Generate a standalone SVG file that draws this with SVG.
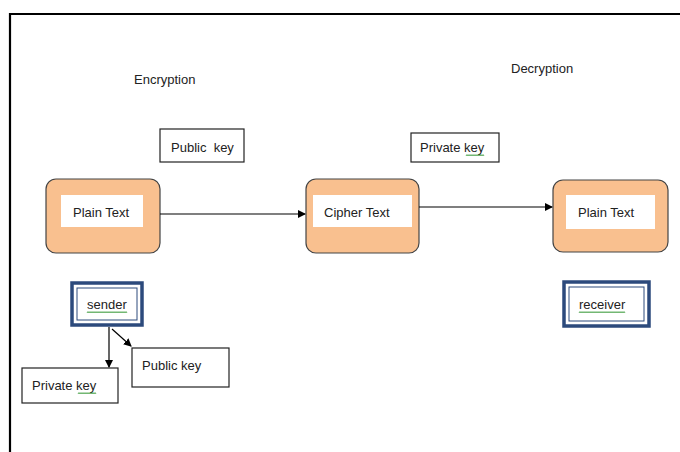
<svg xmlns="http://www.w3.org/2000/svg" width="680" height="452" viewBox="0 0 680 452">
<defs>
<marker id="ah" markerWidth="8" markerHeight="8" refX="7" refY="4" orient="auto" markerUnits="userSpaceOnUse">
<path d="M0,0 L8,4 L0,8 z" fill="#000"/>
</marker>
</defs>
<style>
text{font-family:"Liberation Sans",Arial,sans-serif;font-size:13px;fill:#222}
.node{fill:#f9c08f;stroke:#444;stroke-width:1.2}
.inner{fill:#fff}
.box{fill:#fff;stroke:#222;stroke-width:1.2}
.outer{fill:#fff;stroke:#2c4a7c;stroke-width:3.5}
.innerline{fill:none;stroke:#2c4a7c;stroke-width:1}
.conn{stroke:#000;stroke-width:1.2;fill:none;marker-end:url(#ah)}
.squig{fill:none;stroke:#3a9a3a;stroke-width:0.8}
</style>
<rect width="680" height="452" fill="#fff"/>
<path d="M10,452 L10,14 L680,14" fill="none" stroke="#000" stroke-width="2.2"/>
<text x="134" y="84">Encryption</text>
<text x="511" y="73">Decryption</text>
<g id="pubkey-top"><rect class="box" x="160" y="129" width="84" height="33"/><text x="171" y="152" xml:space="preserve" style="white-space:pre">Public  key</text></g>
<g id="privkey-top"><rect class="box" x="411" y="133" width="88" height="29"/><text x="420" y="152">Private key</text><path class="squig" d="M466,156 l1,-1.5 l1,1.5 l1,-1.5 l1,1.5 l1,-1.5 l1,1.5 l1,-1.5 l1,1.5 l1,-1.5 l1,1.5 l1,-1.5 l1,1.5 l1,-1.5 l1,1.5 l1,-1.5 l1,1.5 l1,-1.5 l1,1.5"/></g>
<g id="plain1"><rect class="node" x="46" y="179" width="114" height="74" rx="10"/><rect class="inner" x="61" y="195" width="82" height="32"/><text x="73" y="217">Plain Text</text></g>
<g id="cipher"><rect class="node" x="306" y="179" width="113" height="74" rx="10"/><rect class="inner" x="313" y="195" width="99" height="32"/><text x="324" y="217">Cipher Text</text></g>
<g id="plain2"><rect class="node" x="553" y="180" width="115" height="72" rx="10"/><rect class="inner" x="566" y="195" width="89" height="34"/><text x="578" y="217">Plain Text</text></g>
<g id="sender"><rect class="outer" x="72" y="283" width="70" height="42"/><rect class="innerline" x="77" y="288" width="60" height="32"/><text x="87" y="309">sender</text><path class="squig" d="M87,313 l1,-1.5 l1,1.5 l1,-1.5 l1,1.5 l1,-1.5 l1,1.5 l1,-1.5 l1,1.5 l1,-1.5 l1,1.5 l1,-1.5 l1,1.5 l1,-1.5 l1,1.5 l1,-1.5 l1,1.5 l1,-1.5 l1,1.5 l1,-1.5 l1,1.5 l1,-1.5 l1,1.5 l1,-1.5 l1,1.5 l1,-1.5 l1,1.5 l1,-1.5 l1,1.5 l1,-1.5 l1,1.5 l1,-1.5 l1,1.5 l1,-1.5 l1,1.5 l1,-1.5 l1,1.5 l1,-1.5 l1,1.5 l1,-1.5 l1,1.5"/></g>
<g id="receiver"><rect class="outer" x="564" y="282" width="85" height="44"/><rect class="innerline" x="569" y="287" width="75" height="34"/><text x="579" y="309">receiver</text><path class="squig" d="M579,313 l1,-1.5 l1,1.5 l1,-1.5 l1,1.5 l1,-1.5 l1,1.5 l1,-1.5 l1,1.5 l1,-1.5 l1,1.5 l1,-1.5 l1,1.5 l1,-1.5 l1,1.5 l1,-1.5 l1,1.5 l1,-1.5 l1,1.5 l1,-1.5 l1,1.5 l1,-1.5 l1,1.5 l1,-1.5 l1,1.5 l1,-1.5 l1,1.5 l1,-1.5 l1,1.5 l1,-1.5 l1,1.5 l1,-1.5 l1,1.5 l1,-1.5 l1,1.5 l1,-1.5 l1,1.5 l1,-1.5 l1,1.5 l1,-1.5 l1,1.5 l1,-1.5 l1,1.5 l1,-1.5 l1,1.5 l1,-1.5 l1,1.5"/></g>
<g id="privkey-bottom"><rect class="box" x="22" y="368" width="96" height="35"/><text x="32" y="390">Private key</text><path class="squig" d="M78,394 l1,-1.5 l1,1.5 l1,-1.5 l1,1.5 l1,-1.5 l1,1.5 l1,-1.5 l1,1.5 l1,-1.5 l1,1.5 l1,-1.5 l1,1.5 l1,-1.5 l1,1.5 l1,-1.5 l1,1.5 l1,-1.5 l1,1.5"/></g>
<g id="pubkey-bottom"><rect class="box" x="132" y="348" width="97" height="39"/><text x="142" y="370">Public key</text></g>
<g id="connectors">
<line class="conn" x1="160" y1="214" x2="305" y2="214"/>
<line class="conn" x1="419" y1="207" x2="552" y2="207"/>
<line class="conn" x1="109" y1="327" x2="109" y2="367"/>
<line class="conn" x1="112" y1="329" x2="131" y2="346"/>
</g>
</svg>
